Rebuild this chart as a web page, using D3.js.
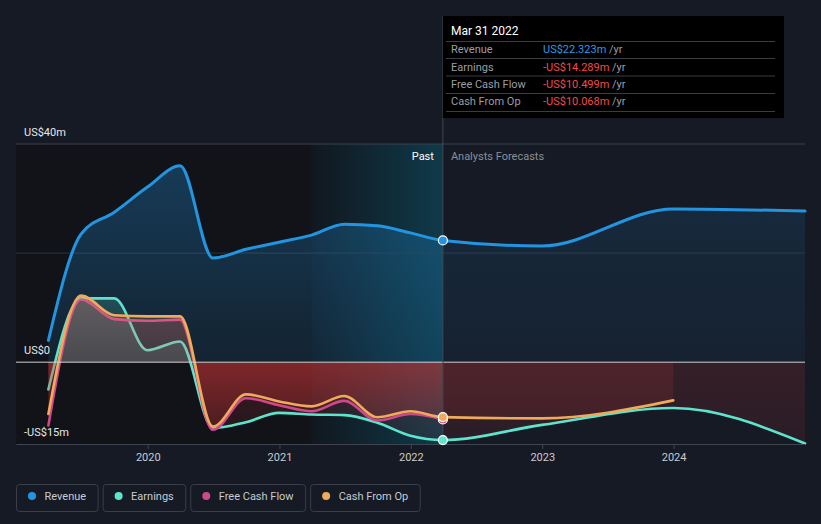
<!DOCTYPE html>
<html>
<head>
<meta charset="utf-8">
<script src="https://cdn.jsdelivr.net/npm/d3@7"></script>
<style>
  html, body { margin: 0; padding: 0; background: #151a25; }
  svg { display: block; font-family: Roboto, "Noto Sans", sans-serif; }
</style>
</head>
<body>
<svg id="chart" width="821" height="524"></svg>
<script>
// ---------- DATA ----------
const pastDates = ["2019-03-31","2019-06-30","2019-09-30","2019-12-31","2020-03-31","2020-06-30",
  "2020-09-30","2020-12-31","2021-03-31","2021-06-30","2021-09-30","2021-12-31","2022-03-31"];
const forecastDates = ["2022-12-31","2023-12-31","2024-12-31"];

const revenuePast   = [4.0, 23.5, 27.5, 32.1, 36.0, 19.1, 20.7, 22.0, 23.3, 25.3, 25.0, 23.7, 22.323];
const earningsPast  = [-5.0, 11.7, 11.7, 2.2, 3.8, -12.1, -11.0, -9.3, -9.6, -9.7, -11.1, -13.5, -14.289];
const fcfPast       = [-11.6, 11.5, 7.9, 7.6, 7.8, -12.4, -6.6, -7.9, -9.0, -7.1, -10.7, -9.5, -10.499];
const cfoPast       = [-9.5, 12.2, 8.6, 8.4, 8.4, -11.8, -5.9, -7.2, -8.1, -6.2, -10.1, -9.0, -10.068];

const revenueForecast  = [21.3, 28.1, 27.7];
const earningsForecast = [-11.5, -8.4, -14.9];
const cfoForecast      = [-10.3, -7.0];

const yTickValues = [40, 0, -15];
const yTickLabels = ["US$40m", "US$0", "-US$15m"];
const yGridValues = [40, 20];
const xTickYears  = ["2020", "2021", "2022", "2023", "2024"];

const tooltipDate = "Mar 31 2022";
const tooltipRows = [
  { label: "Revenue",        value: "US$22.323m" },
  { label: "Earnings",       value: "-US$14.289m" },
  { label: "Free Cash Flow", value: "-US$10.499m" },
  { label: "Cash From Op",   value: "-US$10.068m" }
];

const seriesNames  = ["Revenue", "Earnings", "Free Cash Flow", "Cash From Op"];
const seriesColors = ["#2394df", "#5ee3cc", "#d0488c", "#efab5b"];

// ---------- SETUP ----------
const parse = d3.timeParse("%Y-%m-%d");
const W = 821, H = 524;
const pL = 16, pR = 805, pT = 144, pB = 444;
const svg = d3.select("#chart");

const x = d3.scaleTime().domain([parse("2018-12-31"), parse("2024-12-31")]).range([pL, pR]);
const y = d3.scaleLinear().domain([-15, 40]).range([pB, pT]);
const y0 = y(0);
const divDate = parse("2022-03-31");
const xDiv = x(divDate);
const bandStart = x(parse("2021-03-31"));

function mk(dates, vals) { return vals.map((v, i) => ({ date: parse(dates[i]), v })); }
const series = [
  { key: "rev", data: mk(pastDates, revenuePast).concat(mk(forecastDates, revenueForecast)), color: seriesColors[0], width: 3 },
  { key: "earn", data: mk(pastDates, earningsPast).concat(mk(forecastDates, earningsForecast)), color: seriesColors[1], width: 2.6 },
  { key: "fcf", data: mk(pastDates, fcfPast), color: seriesColors[2], width: 2.6 },
  { key: "cfo", data: mk(pastDates, cfoPast).concat(mk(forecastDates.slice(0, 2), cfoForecast)), color: seriesColors[3], width: 2.6 }
];

const defs = svg.append("defs");

const clips = {
  pp: [pL, 0, xDiv - pL, y0],
  pn: [pL, y0, xDiv - pL, pB - y0],
  fp: [xDiv, 0, pR - xDiv, y0],
  fn: [xDiv, y0, pR - xDiv, pB - y0]
};
Object.entries(clips).forEach(([k, r]) => {
  defs.append("clipPath").attr("id", "clip-" + k).append("rect")
    .attr("x", r[0]).attr("y", r[1]).attr("width", r[2]).attr("height", r[3]);
});

function vGrad(id, color, y1, y2, o1, o2) {
  const g = defs.append("linearGradient").attr("id", id)
    .attr("gradientUnits", "userSpaceOnUse").attr("x1", 0).attr("x2", 0).attr("y1", y1).attr("y2", y2);
  g.append("stop").attr("offset", 0).attr("stop-color", color).attr("stop-opacity", o1);
  g.append("stop").attr("offset", 1).attr("stop-color", color).attr("stop-opacity", o2);
}
series.forEach(s => {
  vGrad("pos-p-" + s.key, s.color, pT, y0, 0.33, 0.12);
  vGrad("pos-f-" + s.key, s.color, pT, y0, 0.15, 0.06);
});
vGrad("neg-p", "#e23838", y0, pB, 0.22, 0.07);
vGrad("neg-f", "#e23838", y0, pB, 0.155, 0.1);

const band = defs.append("linearGradient").attr("id", "band")
  .attr("gradientUnits", "userSpaceOnUse").attr("x1", bandStart).attr("x2", xDiv).attr("y1", 0).attr("y2", 0);
band.append("stop").attr("offset", 0).attr("stop-color", "#0b7fa3").attr("stop-opacity", 0.04);
band.append("stop").attr("offset", 1).attr("stop-color", "#0b7fa3").attr("stop-opacity", 0.36);

// ---------- BACKGROUND REGIONS ----------
svg.append("rect").attr("x", 0).attr("y", 0).attr("width", W).attr("height", H).attr("fill", "#151a25");
svg.append("rect").attr("x", pL).attr("y", pT).attr("width", xDiv - pL).attr("height", pB - pT).attr("fill", "#111319");
svg.append("rect").attr("x", bandStart).attr("y", pT).attr("width", xDiv - bandStart).attr("height", pB - pT).attr("fill", "url(#band)");

yGridValues.forEach((v, i) => {
  svg.append("line").attr("x1", pL).attr("x2", pR).attr("y1", y(v)).attr("y2", y(v))
    .attr("stroke", i === 0 ? "#3c424c" : "#2a323d").attr("stroke-width", 1);
});

// ---------- AREAS & LINES ----------
const areaGen = d3.area().x(d => x(d.date)).y0(y0).y1(d => y(d.v)).curve(d3.curveMonotoneX);
const lineGen = d3.line().x(d => x(d.date)).y(d => y(d.v)).curve(d3.curveMonotoneX);

series.forEach(s => {
  const g = svg.append("g");
  g.append("path").attr("d", areaGen(s.data)).attr("fill", `url(#pos-p-${s.key})`).attr("clip-path", "url(#clip-pp)");
  g.append("path").attr("d", areaGen(s.data)).attr("fill", "url(#neg-p)").attr("clip-path", "url(#clip-pn)");
  g.append("path").attr("d", areaGen(s.data)).attr("fill", `url(#pos-f-${s.key})`).attr("clip-path", "url(#clip-fp)");
  g.append("path").attr("d", areaGen(s.data)).attr("fill", "url(#neg-f)").attr("clip-path", "url(#clip-fn)");
  g.append("path").attr("d", lineGen(s.data)).attr("fill", "none").attr("stroke", s.color)
    .attr("stroke-width", s.width).attr("stroke-linejoin", "round").attr("stroke-linecap", "round");
});

svg.append("line").attr("x1", pL).attr("x2", pR).attr("y1", y0).attr("y2", y0).attr("stroke", "#cfd0d2").attr("stroke-width", 1);

const xAxis = d3.axisBottom(x)
  .tickValues(xTickYears.map(t => parse(t + "-01-01")))
  .tickFormat(d3.timeFormat("%Y")).tickSize(5).tickSizeOuter(0);
const ax = svg.append("g").attr("transform", `translate(0,${pB})`).call(xAxis);
ax.select(".domain").attr("stroke", "#3f454f");
ax.selectAll(".tick line").attr("stroke", "#3f454f");
ax.selectAll(".tick text").attr("fill", "#c9cbce").attr("font-size", 11).attr("dy", "0.85em")
  .attr("font-family", "Roboto, sans-serif");

svg.append("line").attr("x1", xDiv).attr("x2", xDiv).attr("y1", 16).attr("y2", pB)
  .attr("stroke", "#3d4954").attr("stroke-width", 1);

series.forEach(s => {
  const d = s.data.find(p => +p.date === +divDate);
  svg.append("circle").attr("cx", x(d.date)).attr("cy", y(d.v)).attr("r", 4.5)
    .attr("fill", s.color).attr("stroke", "#ffffff").attr("stroke-width", 1.2);
});

yTickValues.forEach((v, i) => {
  svg.append("text").attr("x", 24).attr("y", y(v) - 8).text(yTickLabels[i])
    .attr("fill", "#e6e7e9").attr("font-size", 11);
});

svg.append("text").attr("x", xDiv - 9).attr("y", pT + 16).attr("text-anchor", "end")
  .attr("fill", "#ffffff").attr("font-size", 11).text("Past");
svg.append("text").attr("x", xDiv + 8).attr("y", pT + 16)
  .attr("fill", "#8a8f97").attr("font-size", 11).text("Analysts Forecasts");

// ---------- TOOLTIP ----------
const tt = svg.append("g");
tt.append("rect").attr("x", xDiv).attr("y", 16).attr("width", 784 - xDiv).attr("height", 102).attr("fill", "#000000");
tt.append("text").attr("x", 451).attr("y", 35).attr("fill", "#ffffff").attr("font-size", 12).text(tooltipDate);
const sepY = [41.5, 58.5, 76, 93.5, 111.5];
sepY.forEach(yy => tt.append("line").attr("x1", 446).attr("x2", 775).attr("y1", yy).attr("y2", yy)
  .attr("stroke", "#3a3d42").attr("stroke-width", 1));
const rowY = [53, 70.5, 88, 105];
tooltipRows.forEach((r, i) => {
  tt.append("text").attr("x", 451).attr("y", rowY[i]).attr("fill", "#9a9ea4").attr("font-size", 11).text(r.label);
  const t = tt.append("text").attr("x", 543).attr("y", rowY[i]).attr("font-size", 11);
  t.append("tspan").attr("fill", r.value.startsWith("-") ? "#f24a4a" : "#2a9be6").text(r.value);
  t.append("tspan").attr("fill", "#9a9ea4").text(" /yr");
});

// ---------- LEGEND ----------
let lx = 16.5;
seriesNames.forEach((n, i) => {
  const g = svg.append("g");
  const txt = g.append("text").attr("x", lx + 28).attr("y", 500).attr("fill", "#c8cbcf").attr("font-size", 11).text(n);
  const tw = txt.node().getComputedTextLength();
  const w = 28 + tw + 12;
  g.insert("rect", "text").attr("x", lx).attr("y", 484.5).attr("width", w).attr("height", 27).attr("rx", 3)
    .attr("fill", "none").attr("stroke", "#393e48").attr("stroke-width", 1);
  g.append("circle").attr("cx", lx + 15.5).attr("cy", 496).attr("r", 4).attr("fill", seriesColors[i]);
  lx += w + 5;
});
</script>
</body>
</html>
